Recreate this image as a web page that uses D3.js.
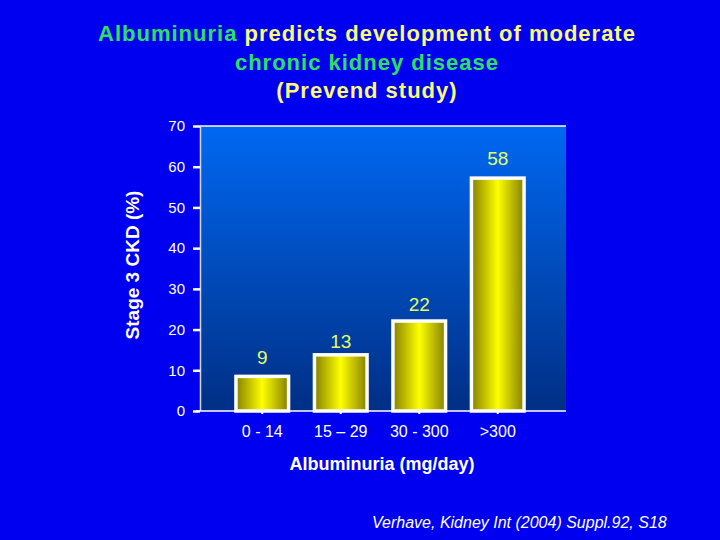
<!DOCTYPE html>
<html>
<head>
<meta charset="utf-8">
<script src="https://cdn.jsdelivr.net/npm/d3@7"></script>
<style>
  body { margin: 0; background: #0000f0; }
  svg { display: block; font-family: "Liberation Sans", Arial, sans-serif; }
</style>
</head>
<body>
<svg id="chart" width="720" height="540"></svg>
<script>
// categories and values
const categories = ["0 - 14", "15 – 29", "30 - 300", ">300"];
const labelValues = [9, 13, 22, 58];
// bar heights as drawn (slightly different from the printed labels)
const barValues = [8.5, 13.8, 22.1, 57.2];
const yTicks = [0, 10, 20, 30, 40, 50, 60, 70];

const svg = d3.select("#chart");
const plot = { left: 200, right: 566, top: 126, bottom: 411 };

const defs = svg.append("defs");
const bg = defs.append("linearGradient").attr("id", "plotBg")
  .attr("x1", 0).attr("y1", 0).attr("x2", 0).attr("y2", 1);
bg.append("stop").attr("offset", "0%").attr("stop-color", "#0068f2");
bg.append("stop").attr("offset", "100%").attr("stop-color", "#002f85");

const barGrad = defs.append("linearGradient").attr("id", "barFill")
  .attr("x1", 0).attr("y1", 0).attr("x2", 1).attr("y2", 0);
barGrad.append("stop").attr("offset", "0%").attr("stop-color", "#858000");
barGrad.append("stop").attr("offset", "50%").attr("stop-color", "#ffff00");
barGrad.append("stop").attr("offset", "100%").attr("stop-color", "#858000");

const y = d3.scaleLinear().domain([0, 70]).range([plot.bottom, plot.top]);
const x = d3.scaleBand()
  .domain(categories)
  .range([223, 537])
  .paddingInner(0.33)
  .paddingOuter(0.165);

// plot background
svg.append("rect")
  .attr("x", plot.left).attr("y", plot.top)
  .attr("width", plot.right - plot.left).attr("height", plot.bottom - plot.top)
  .attr("fill", "url(#plotBg)");

// frame lines
svg.append("line").attr("x1", plot.left).attr("x2", plot.right)
  .attr("y1", plot.top).attr("y2", plot.top)
  .attr("stroke", "#fff").attr("stroke-width", 1.5);
svg.append("line").attr("x1", plot.left + 0.5).attr("x2", plot.left + 0.5)
  .attr("y1", plot.top).attr("y2", plot.bottom)
  .attr("stroke", "#cfe0ff").attr("stroke-width", 1.5);

// y axis
const yAxis = svg.append("g")
  .attr("transform", `translate(${plot.left}, 0)`)
  .call(d3.axisLeft(y).tickValues(yTicks).tickSize(7).tickPadding(8));
yAxis.select(".domain").remove();
yAxis.selectAll(".tick line").attr("stroke", "#fff").attr("stroke-width", 2.5);
yAxis.selectAll(".tick text")
  .attr("fill", "#fff")
  .style("font-size", "15px")
  .style("font-family", "'Liberation Sans', Arial, sans-serif");

// bars
svg.selectAll(".bar")
  .data(barValues)
  .enter()
  .append("rect")
  .attr("class", "bar")
  .attr("x", (d, i) => x(categories[i]))
  .attr("y", (d) => y(d))
  .attr("width", x.bandwidth())
  .attr("height", (d) => y(0) - y(d))
  .attr("fill", "url(#barFill)")
  .attr("stroke", "#fff")
  .attr("stroke-width", 3.5);

// x axis line + small ticks
const xAxis = svg.append("g")
  .attr("transform", `translate(0, ${plot.bottom})`)
  .call(d3.axisBottom(x).tickSize(3).tickPadding(12));
xAxis.select(".domain")
  .attr("d", `M${plot.left - 4},0H${plot.right}`)
  .attr("stroke", "#fff").attr("stroke-width", 1.5);
xAxis.selectAll(".tick line").attr("stroke", "#fff").attr("stroke-width", 2);
xAxis.selectAll(".tick text")
  .attr("fill", "#fff")
  .style("font-size", "16px")
  .style("font-family", "'Liberation Sans', Arial, sans-serif");

// value labels
svg.selectAll(".val")
  .data(labelValues)
  .enter()
  .append("text")
  .attr("class", "val")
  .attr("x", (d, i) => x(categories[i]) + x.bandwidth() / 2)
  .attr("y", (d) => y(d) - 10)
  .attr("text-anchor", "middle")
  .attr("fill", "#e2ff66")
  .style("font-size", "19px")
  .text((d) => d);

// axis titles
svg.append("text")
  .attr("transform", "translate(139, 265) rotate(-90)")
  .attr("text-anchor", "middle")
  .attr("fill", "#fff")
  .style("font-size", "19px")
  .style("font-weight", "bold")
  .text("Stage 3 CKD (%)");

svg.append("text")
  .attr("x", 382).attr("y", 470)
  .attr("text-anchor", "middle")
  .attr("fill", "#fff")
  .style("font-size", "18px")
  .style("font-weight", "bold")
  .text("Albuminuria (mg/day)");

// title
const green = "#2ee060", yellow = "#fafa78";
const titleStyle = (sel) => sel
  .attr("text-anchor", "middle")
  .style("font-size", "22px")
  .style("font-weight", "bold")
  .style("letter-spacing", "1px");

const t1 = svg.append("text").attr("x", 367).attr("y", 41).call(titleStyle);
t1.append("tspan").attr("fill", green).text("Albuminuria ");
t1.append("tspan").attr("fill", yellow).text("predicts development of moderate");

svg.append("text").attr("x", 367).attr("y", 70).call(titleStyle)
  .attr("fill", green)
  .text("chronic kidney disease");

svg.append("text").attr("x", 367).attr("y", 98).call(titleStyle)
  .attr("fill", yellow)
  .text("(Prevend study)");

// source
svg.append("text")
  .attr("x", 372).attr("y", 528)
  .attr("fill", "#fff")
  .style("font-size", "16px")
  .style("font-style", "italic")
  .text("Verhave, Kidney Int (2004) Suppl.92, S18");
</script>
</body>
</html>
